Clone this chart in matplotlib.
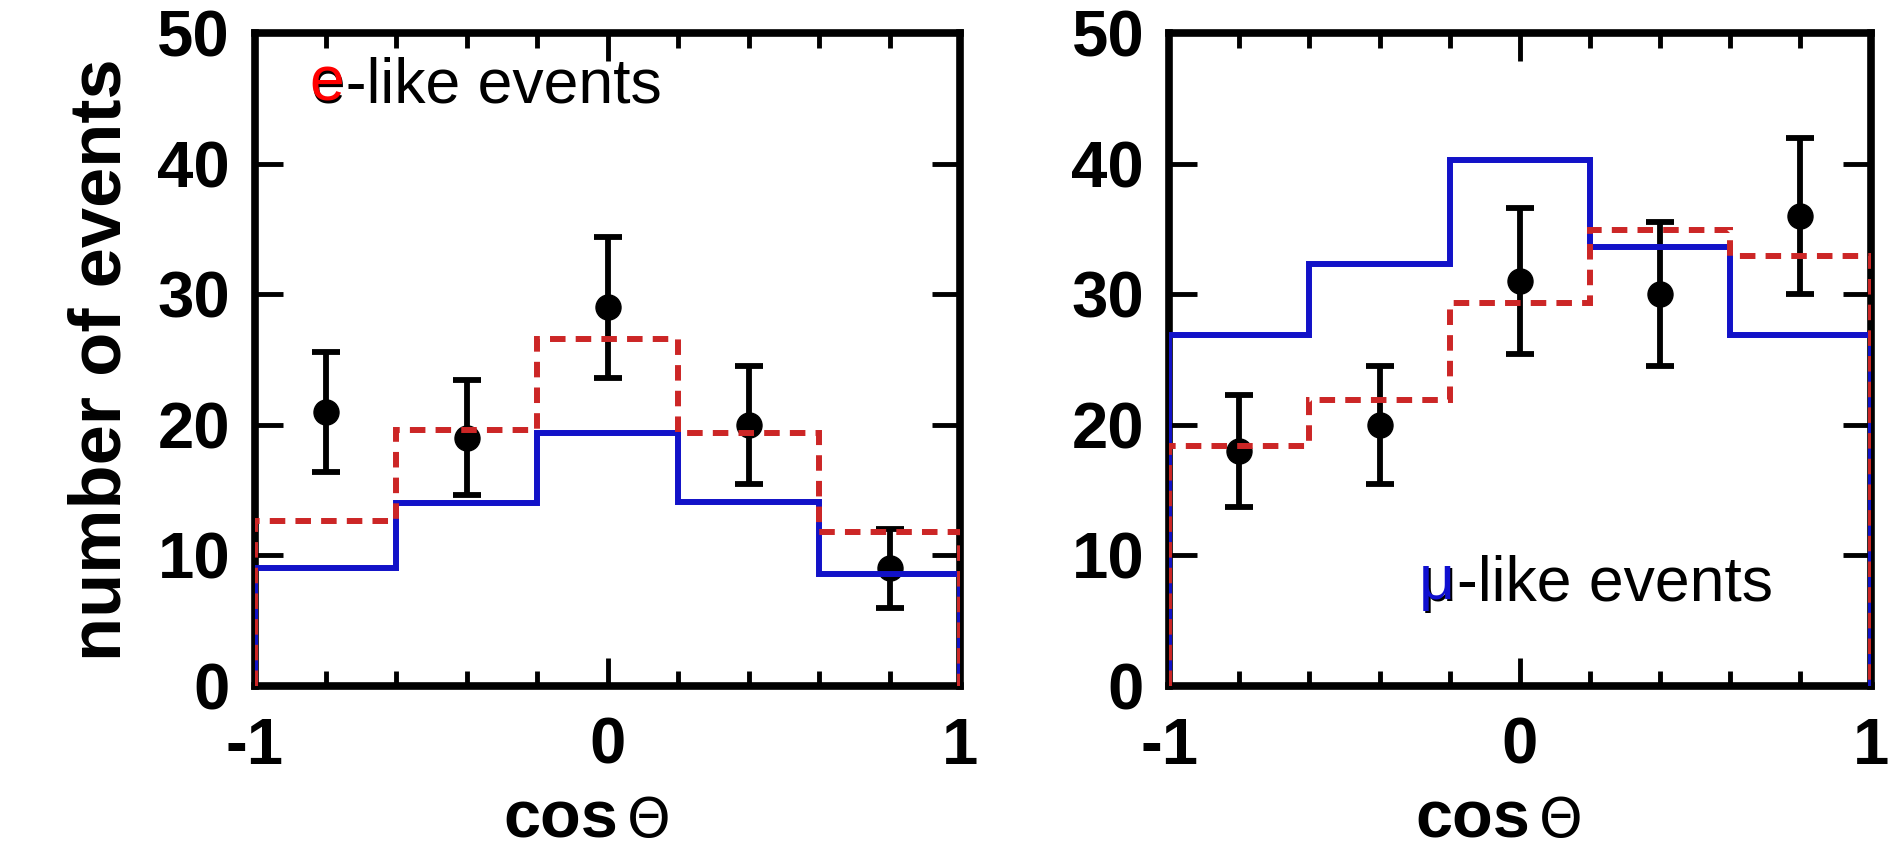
import numpy as np
import matplotlib.pyplot as plt
import matplotlib.transforms as mtransforms
from matplotlib.ticker import MultipleLocator, FixedLocator

plt.rcParams['font.family'] = ['Liberation Sans', 'DejaVu Sans']

# bin edges and bin centres in cos(theta)
edges = [-1.0, -0.6, -0.2, 0.2, 0.6, 1.0]
centers = [-0.8, -0.4, 0.0, 0.4, 0.8]

# e-like sample
e_blue = [9.0, 14.0, 19.4, 14.1, 8.6]
e_red = [12.6, 19.6, 26.6, 19.4, 11.8]
e_data = [21, 19, 29, 20, 9]
e_err = [4.6, 4.4, 5.4, 4.5, 3.0]

# mu-like sample
mu_blue = [26.9, 32.3, 40.3, 33.6, 26.9]
mu_red = [18.4, 21.9, 29.3, 34.9, 32.9]
mu_data = [18, 20, 31, 30, 36]
mu_err = [4.3, 4.5, 5.6, 5.5, 6.0]

BLUE = '#1212c8'
RED = '#cc2626'

fig = plt.figure(figsize=(18.96, 8.5), dpi=100)
ax1 = fig.add_axes([0.1345, 0.193, 0.372, 0.768])
ax2 = fig.add_axes([0.6166, 0.193, 0.370, 0.768])


def draw(ax, blue, red, data, err):
    ax.errorbar(centers, data, yerr=err, fmt='o', color='black', ms=18,
                elinewidth=4.2, capsize=10, capthick=4.2, zorder=2)
    ax.stairs(blue, edges, baseline=0, color=BLUE, lw=4.3, zorder=3)
    ax.stairs(red, edges, baseline=0, color=RED, lw=4.3,
              linestyle=(0, (2.6, 1.7)), zorder=4)
    ax.set_xlim(-1, 1)
    ax.set_ylim(0, 50)
    ax.xaxis.set_major_locator(FixedLocator([-1, 0, 1]))
    ax.xaxis.set_minor_locator(MultipleLocator(0.2))
    ax.yaxis.set_major_locator(MultipleLocator(10))
    ax.set_xticklabels(['-1', '0', '1'])
    ax.tick_params(which='major', direction='in', length=20, width=3.5,
                   top=True, right=True, labelsize=47, pad=18)
    ax.tick_params(which='minor', direction='in', length=11, width=3.5,
                   top=True, right=True)
    ax.tick_params(axis='x', pad=22)
    for lab in ax.get_xticklabels() + ax.get_yticklabels():
        lab.set_fontweight('bold')
    for sp in ax.spines.values():
        sp.set_linewidth(5.5)
    ax.text(0.515, -0.232, 'cos', transform=ax.transAxes, ha='right',
            va='baseline', fontsize=48, fontweight='bold')
    ax.text(0.527, -0.232, '\u0398', transform=ax.transAxes, ha='left',
            va='baseline', fontsize=40, family='DejaVu Sans')


draw(ax1, e_blue, e_red, e_data, e_err)
draw(ax2, mu_blue, mu_red, mu_data, mu_err)

ax1.set_ylabel('number of events', fontsize=52, fontweight='bold', labelpad=16)

# sample labels: coloured particle letter over a black shadow
ax1.text(0.08, 0.893, 'e-like events', transform=ax1.transAxes,
         fontsize=45, va='baseline', color='black')
shift = mtransforms.offset_copy(ax1.transAxes, fig=fig, x=-2, y=2, units='dots')
ax1.text(0.08, 0.893, 'e', transform=shift, fontsize=45, va='baseline', color='red')

ax2.text(0.359, 0.130, '\u03bc-like events', transform=ax2.transAxes,
         fontsize=45, va='baseline', color='black')
shift2 = mtransforms.offset_copy(ax2.transAxes, fig=fig, x=-2, y=2, units='dots')
ax2.text(0.359, 0.130, '\u03bc', transform=shift2, fontsize=45, va='baseline', color='#1010d0')

fig.savefig('out.png', dpi=100)
